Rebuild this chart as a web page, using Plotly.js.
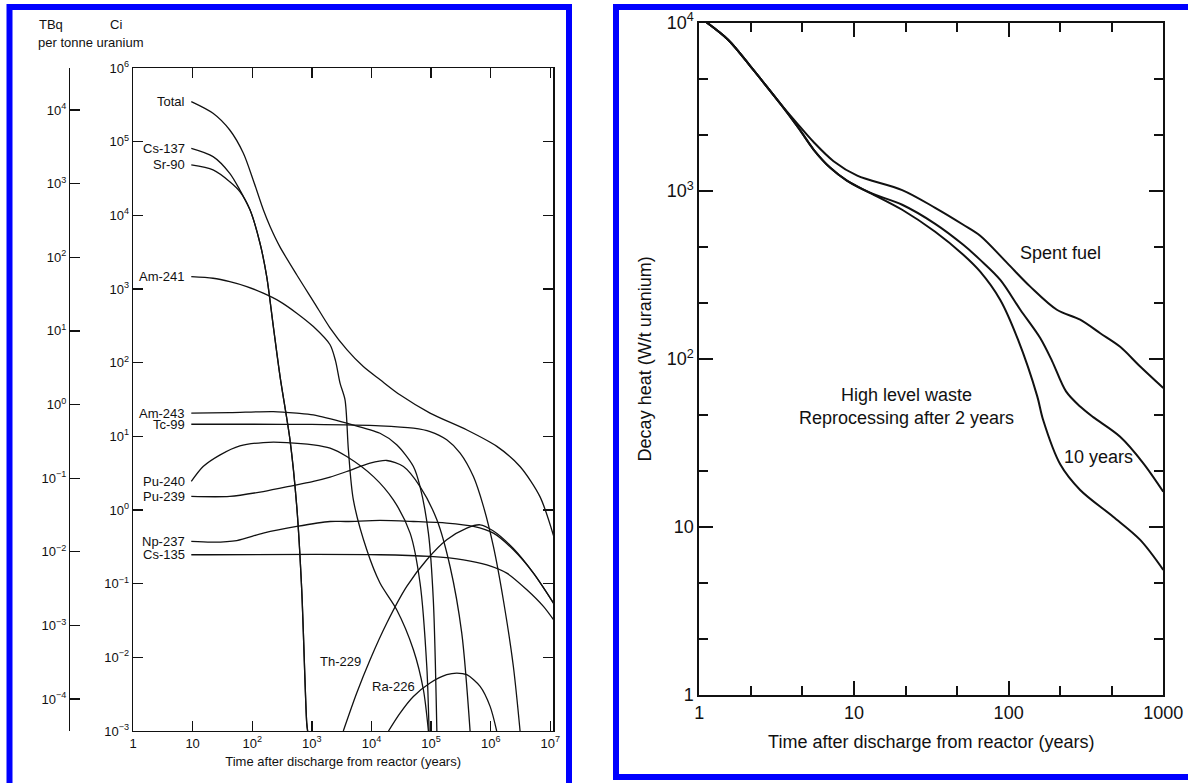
<!DOCTYPE html>
<html><head><meta charset="utf-8">
<script src="https://cdn.plot.ly/plotly-3.0.1.min.js"></script>
<style>html,body{margin:0;padding:0;background:#fff;}#chart{width:1188px;height:783px;}</style>
</head><body><div id="chart"></div>
<script>
// ---------- Left chart: activity (Ci per tonne uranium) ----------
const totalYears = [9.5, 22, 42, 71, 104, 154, 200, 290, 560, 1100, 2000, 3900, 7300, 14000, 30000, 96000, 400000, 1270000, 3100000, 6700000, 11300000];
const totalCi    = [3.5e5, 2.43e5, 1.44e5, 6.97e4, 3.0e4, 1.18e4, 7.0e3, 3.76e3, 1.55e3, 650, 300, 149, 88.5, 58.5, 36.6, 20.7, 12.2, 7.3, 3.9, 1.52, 0.45];
const cs137Years = [9.5, 22, 42, 62, 92, 135, 175, 226, 293, 430, 558, 676, 820, 850];
const cs137Ci    = [8.1e4, 6.27e4, 3.72e4, 2.21e4, 1.18e4, 4.18e3, 1.47e3, 309, 64.7, 8.97, 1.12, 0.083, 1.29e-3, 1.0e-3];
const sr90Years  = [9.5, 22, 42, 62, 92, 135, 175, 226, 293, 430, 558, 676, 820, 850];
const sr90Ci     = [4.83e4, 4.13e4, 2.86e4, 2.1e4, 1.18e4, 4.18e3, 1.47e3, 309, 64.7, 8.97, 1.12, 0.083, 1.29e-3, 1.0e-3];
const am241Years = [9.5, 22, 42, 81, 153, 292, 558, 1060, 2020, 2500, 2970, 3600, 4100, 4970, 8340, 13900, 26500, 50500, 74300, 90200];
const am241Ci    = [1470, 1400, 1260, 1080, 877, 675, 470, 309, 175, 105, 52.7, 31.3, 6.56, 1.37, 0.288, 0.102, 0.0443, 0.0127, 3.63e-3, 1.0e-3];
const am243Years = [9.5, 42, 226, 558, 1060, 3850, 13900, 26500, 50500, 65300, 90200, 109000, 125000];
const am243Ci    = [20.7, 21.0, 21.7, 20.7, 19.6, 15.1, 11.0, 7.7, 3.9, 2.08, 0.485, 0.060, 1.0e-3];
const tc99Years  = [9.5, 100, 1000, 13900, 50500, 96200, 183000, 307000, 513000, 755000, 1110000, 1630000, 2400000, 3110000];
const tc99Ci     = [14.6, 14.6, 14.5, 13.9, 12.9, 11.6, 8.97, 5.92, 2.84, 1.12, 0.32, 0.060, 7.5e-3, 1.0e-3];
const pu240Years = [9.5, 15, 29, 62, 153, 380, 1060, 2020, 3850, 10800, 23300, 44500, 65300, 84700, 92500];
const pu240Ci    = [2.44, 3.89, 5.61, 7.43, 8.24, 8.24, 7.67, 6.92, 5.32, 2.84, 1.37, 0.485, 0.102, 7.5e-3, 1.0e-3];
const pu239Years = [9.5, 42, 153, 558, 1060, 2020, 3850, 9480, 18100, 34400, 65300, 125000, 208000, 327000, 451000];
const pu239Ci    = [1.53, 1.53, 1.78, 2.20, 2.44, 2.79, 3.33, 4.32, 4.70, 3.89, 2.08, 0.736, 0.171, 0.0213, 1.0e-3];
const np237Years = [9.5, 22, 55, 153, 558, 2020, 3850, 13900, 50500, 183000, 513000, 1110000, 2400000, 5210000, 11300000];
const np237Ci    = [0.374, 0.366, 0.385, 0.485, 0.598, 0.698, 0.698, 0.721, 0.698, 0.664, 0.598, 0.485, 0.288, 0.139, 0.0545];
const cs135Years = [9.5, 13900, 96200, 349000, 861000, 1860000, 4040000, 7660000, 11300000];
const cs135Ci    = [0.247, 0.247, 0.234, 0.211, 0.180, 0.139, 0.0826, 0.0491, 0.0324];
const th229Years = [3370, 5660, 9480, 18100, 39100, 84700, 183000, 397000, 664000, 1110000, 2400000, 5210000, 11300000];
const th229Ci    = [1.0e-3, 3.27e-3, 9.27e-3, 0.0292, 0.0916, 0.211, 0.394, 0.568, 0.630, 0.52, 0.30, 0.139, 0.0545];
const ra226Years = [19300, 30200, 50500, 96200, 183000, 270000, 397000, 664000, 977000, 1260000];
const ra226Ci    = [1.0e-3, 1.75e-3, 2.94e-3, 4.48e-3, 5.81e-3, 6.12e-3, 5.81e-3, 4.04e-3, 2.16e-3, 1.0e-3];

const leftXTickVals = [1, 10, 100, 1e3, 1e4, 1e5, 1e6, 1e7];
const leftXTickText = ['1', '10', '10<sup>2</sup>', '10<sup>3</sup>', '10<sup>4</sup>', '10<sup>5</sup>', '10<sup>6</sup>', '10<sup>7</sup>'];
const ciTickVals = [1e-3, 1e-2, 1e-1, 1, 10, 100, 1e3, 1e4, 1e5, 1e6];
const ciTickText = ['10<sup>−3</sup>', '10<sup>−2</sup>', '10<sup>−1</sup>', '10<sup>0</sup>', '10<sup>1</sup>', '10<sup>2</sup>', '10<sup>3</sup>', '10<sup>4</sup>', '10<sup>5</sup>', '10<sup>6</sup>'];
const tbqTickVals = [1e-4, 1e-3, 1e-2, 1e-1, 1, 10, 100, 1e3, 1e4];
const tbqTickText = ['10<sup>−4</sup>', '10<sup>−3</sup>', '10<sup>−2</sup>', '10<sup>−1</sup>', '10<sup>0</sup>', '10<sup>1</sup>', '10<sup>2</sup>', '10<sup>3</sup>', '10<sup>4</sup>'];
const ciPerTBq = 27;

// ---------- Right chart: decay heat (W per tonne uranium) ----------
const spentYears = [1, 1.54, 2.23, 3.34, 4.4, 5.48, 7.38, 10.5, 20.5, 33.5, 50.9, 65.5, 98, 138, 205, 290, 391, 526, 709, 1000];
const spentW     = [10800, 7900, 5250, 3300, 2450, 1950, 1500, 1230, 1010, 792, 628, 540, 371, 269, 196, 171, 142, 118, 90, 67];
const hlw10Years = [1, 1.54, 2.23, 3.34, 4.4, 5.48, 7.03, 9.0, 12.7, 20.5, 33.5, 50.9, 65.5, 88.3, 119, 160, 191, 235, 290, 352, 526, 741, 1000];
const hlw10W     = [10800, 7900, 5250, 3300, 2350, 1760, 1370, 1150, 973, 826, 636, 477, 388, 295, 196, 133, 97, 64, 52, 45, 34.4, 24, 16.2];
const hlw2Years  = [1, 1.54, 2.23, 3.34, 4.4, 5.48, 7.03, 9.0, 12.7, 20.5, 33.5, 50.9, 65.5, 88.3, 115, 153, 167, 216, 290, 474, 709, 1000];
const hlw2W      = [10800, 7900, 5250, 3300, 2350, 1760, 1370, 1150, 973, 771, 570, 416, 330, 224, 130, 60, 43.4, 23.5, 16.6, 11.5, 8.37, 5.55];

const rightXTickVals = [1, 10, 100, 1000];
const rightXTickText = ['1', '10', '100', '1000'];
const rightXMinorVals = [2.154, 4.642, 21.54, 46.42, 215.4, 464.2];
const rightYTickVals = [1, 10, 100, 1000, 10000];
const rightYTickText = ['1', '10', '10<sup>2</sup>', '10<sup>3</sup>', '10<sup>4</sup>'];
const rightYMinorVals = [2.154, 4.642, 21.54, 46.42, 215.4, 464.2, 2154, 4642];

// ---------- build ----------
const W = 1188, H = 783;
const px = v => v / W, py = v => 1 - v / H;
const FONT = 'Liberation Sans, Arial, Helvetica, sans-serif';
const INK = '#111111';
const LF = 13, RF = 18;

const leftSeries = [
  {name: 'Total',  x: totalYears, y: totalCi, label: true},
  {name: 'Cs-137', x: cs137Years, y: cs137Ci, label: true},
  {name: 'Sr-90',  x: sr90Years,  y: sr90Ci,  label: true},
  {name: 'Am-241', x: am241Years, y: am241Ci, label: true},
  {name: 'Am-243', x: am243Years, y: am243Ci, label: true},
  {name: 'Tc-99',  x: tc99Years,  y: tc99Ci,  label: true},
  {name: 'Pu-240', x: pu240Years, y: pu240Ci, label: true},
  {name: 'Pu-239', x: pu239Years, y: pu239Ci, label: true},
  {name: 'Np-237', x: np237Years, y: np237Ci, label: true},
  {name: 'Cs-135', x: cs135Years, y: cs135Ci, label: true},
  {name: 'Th-229', x: th229Years, y: th229Ci, label: false},
  {name: 'Ra-226', x: ra226Years, y: ra226Ci, label: false}
];

const traces = leftSeries.map(s => ({
  type: 'scatter', mode: 'lines', name: s.name, x: s.x, y: s.y, xaxis: 'x', yaxis: 'y',
  line: {color: INK, width: 1.3, shape: 'spline', smoothing: 0.8}, hoverinfo: 'skip', showlegend: false
}));
// TBq axis companion (invisible; same Total curve expressed in TBq)
traces.push({type: 'scatter', mode: 'lines', x: totalYears, y: totalCi.map(v => v / ciPerTBq), xaxis: 'x', yaxis: 'y3',
  line: {color: 'rgba(0,0,0,0)', width: 0}, hoverinfo: 'skip', showlegend: false});

[[spentYears, spentW, 'Spent fuel'], [hlw10Years, hlw10W, 'HLW 10 years'], [hlw2Years, hlw2W, 'HLW 2 years']].forEach(([x, y, n]) => {
  traces.push({type: 'scatter', mode: 'lines', name: n, x, y, xaxis: 'x2', yaxis: 'y2',
    line: {color: INK, width: 2, shape: 'spline', smoothing: 0.9}, hoverinfo: 'skip', showlegend: false});
});

const annotations = [];
leftSeries.filter(s => s.label).forEach(s => {
  annotations.push({xref: 'x', yref: 'y', x: Math.log10(7.9), y: Math.log10(s.y[0]), text: s.name,
    xanchor: 'right', yanchor: 'middle', showarrow: false, font: {family: FONT, size: LF, color: INK}});
});
annotations.push({xref: 'x', yref: 'y', x: 3.86, y: -2.06, text: 'Th-229', xanchor: 'right', yanchor: 'middle', showarrow: false, font: {family: FONT, size: LF, color: INK}});
annotations.push({xref: 'x', yref: 'y', x: 4.76, y: -2.40, text: 'Ra-226', xanchor: 'right', yanchor: 'middle', showarrow: false, font: {family: FONT, size: LF, color: INK}});
annotations.push({xref: 'paper', yref: 'paper', x: px(37), y: py(24), text: 'TBq', xanchor: 'left', yanchor: 'middle', showarrow: false, font: {family: FONT, size: LF, color: INK}});
annotations.push({xref: 'paper', yref: 'paper', x: px(108), y: py(24), text: 'Ci', xanchor: 'left', yanchor: 'middle', showarrow: false, font: {family: FONT, size: LF, color: INK}});
annotations.push({xref: 'paper', yref: 'paper', x: px(36), y: py(43), text: 'per tonne uranium', xanchor: 'left', yanchor: 'middle', showarrow: false, font: {family: FONT, size: LF, color: INK}});
// right chart labels
annotations.push({xref: 'x2', yref: 'y2', x: Math.log10(216), y: Math.log10(428), text: 'Spent fuel', showarrow: false, font: {family: FONT, size: RF, color: INK}});
annotations.push({xref: 'x2', yref: 'y2', x: Math.log10(21.8), y: Math.log10(61), text: 'High level waste', showarrow: false, font: {family: FONT, size: RF, color: INK}});
annotations.push({xref: 'x2', yref: 'y2', x: Math.log10(21.8), y: Math.log10(44.6), text: 'Reprocessing after 2 years', showarrow: false, font: {family: FONT, size: RF, color: INK}});
annotations.push({xref: 'x2', yref: 'y2', x: Math.log10(379), y: Math.log10(26.1), text: '10 years', showarrow: false, font: {family: FONT, size: RF, color: INK}});

const leftAxisCommon = {type: 'log', showgrid: false, zeroline: false, showline: true, linecolor: INK, linewidth: 1.3,
  ticks: 'inside', ticklen: 10, tickwidth: 1.3, tickcolor: INK, mirror: 'ticks', tickmode: 'array',
  tickfont: {family: FONT, size: LF, color: INK}};
const rightAxisCommon = {type: 'log', showgrid: false, zeroline: false, showline: true, linecolor: INK, linewidth: 2,
  ticks: 'inside', ticklen: 14, tickwidth: 2, tickcolor: INK, mirror: 'ticks', tickmode: 'array',
  tickfont: {family: FONT, size: RF, color: INK}};

const tbqRange = [Math.log10(1e-3 / ciPerTBq) - 0.002, Math.log10(1e6 / ciPerTBq) + 0.002];

const layout = {
  width: W, height: H, margin: {l: 0, r: 0, t: 0, b: 0},
  paper_bgcolor: '#ffffff', plot_bgcolor: 'rgba(0,0,0,0)', showlegend: false,
  font: {family: FONT, color: INK},
  xaxis: Object.assign({}, leftAxisCommon, {domain: [px(133), px(553.3)], anchor: 'y', range: [0, 7.05],
    tickvals: leftXTickVals, ticktext: leftXTickText,
    title: {text: 'Time after discharge from reactor (years)', font: {family: FONT, size: LF, color: INK}, standoff: 7}}),
  yaxis: Object.assign({}, leftAxisCommon, {domain: [py(731), py(68)], anchor: 'x', range: [-3, 6],
    tickvals: ciTickVals, ticktext: ciTickText}),
  yaxis3: Object.assign({}, leftAxisCommon, {overlaying: 'y', anchor: 'free', position: px(69), side: 'left', mirror: false,
    range: tbqRange,
    tickvals: tbqTickVals.concat([1e-3 / ciPerTBq, 1e6 / ciPerTBq]), ticktext: tbqTickText.concat(['', ''])}),
  xaxis2: Object.assign({}, rightAxisCommon, {domain: [px(699.3), px(1163.3)], anchor: 'y2', range: [0, 3],
    tickvals: rightXTickVals, ticktext: rightXTickText,
    minor: {tickmode: 'array', tickvals: rightXMinorVals, ticks: 'inside', ticklen: 9, tickwidth: 2, tickcolor: INK, showgrid: false},
    title: {text: 'Time after discharge from reactor (years)', font: {family: FONT, size: RF, color: INK}, standoff: 14}}),
  yaxis2: Object.assign({}, rightAxisCommon, {domain: [py(695), py(22.7)], anchor: 'x2', range: [0, 4],
    tickvals: rightYTickVals, ticktext: rightYTickText,
    minor: {tickmode: 'array', tickvals: rightYMinorVals, ticks: 'inside', ticklen: 9, tickwidth: 2, tickcolor: INK, showgrid: false},
    title: {text: 'Decay heat (W/t uranium)', font: {family: FONT, size: RF, color: INK}, standoff: 10}}),
  annotations: annotations,
  shapes: [
    {type: 'rect', xref: 'paper', yref: 'paper', x0: px(9.5), x1: px(569), y0: py(800), y1: py(7), line: {color: '#0000ff', width: 6}},
    {type: 'rect', xref: 'paper', yref: 'paper', x0: px(616), x1: px(1200), y0: py(777), y1: py(7), line: {color: '#0000ff', width: 6}}
  ]
};

Plotly.newPlot('chart', traces, layout, {staticPlot: true, displayModeBar: false});
</script></body></html>
